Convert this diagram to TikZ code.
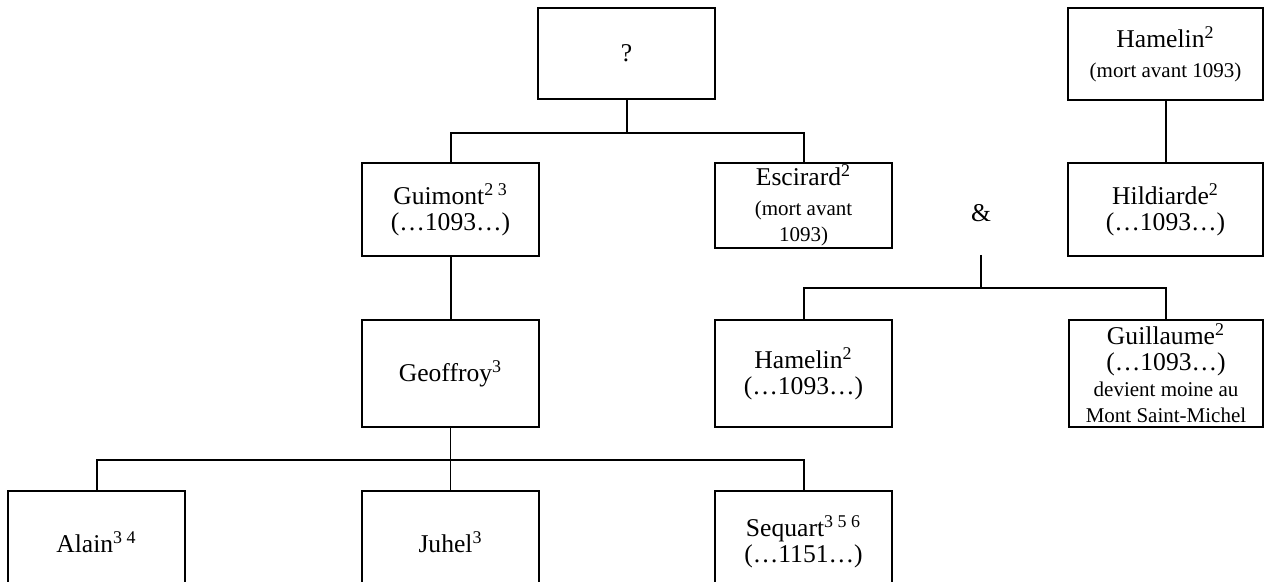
\documentclass[tikz,border=0pt]{standalone}
\usepackage{fontspec}
\setmainfont{Liberation Serif}
\newcommand{\nm}{\fontsize{12.8}{13}\selectfont}
\newcommand{\sm}{\fontsize{10.5}{10}\selectfont}

\begin{document}
\begin{tikzpicture}[x=0.5pt,y=-0.5pt,
  personne/.style={draw,line width=1.3pt,inner sep=0pt,align=center,font=\nm,
    minimum width=88.5pt},
  large/.style={minimum width=97.5pt},
  lien/.style={line width=1pt}]
\useasboundingbox (0,0) rectangle (1264,582);
\clip (0,0) rectangle (1264,582);
% ancetres
\node[personne,minimum height=45.5pt] (inconnu) at (626.5,53.5) {?};
\node[personne,large,minimum height=46pt] (hamelinA) at (1165.5,54)
  {Hamelin\textsuperscript{2}\\[2pt] \sm (mort avant 1093)};
% enfants
\node[personne,minimum height=46.5pt] (guimont) at (450.5,209.5)
  {Guimont\textsuperscript{2 3}\\ (…1093…)};
\node[personne,minimum height=42.5pt] (escirard) at (803.5,205.5)
  {Escirard\textsuperscript{2}\\[2pt] \sm (mort avant\\ \sm 1093)};
\node[personne,large,minimum height=46.5pt] (hildiarde) at (1165.5,209.5)
  {Hildiarde\textsuperscript{2}\\ (…1093…)};
\node[font=\nm] (et) at (981,213) {\&};
\coordinate (etpied) at (981,255);
% petits-enfants
\node[personne,minimum height=53.5pt] (geoffroy) at (450.5,373.5)
  {Geoffroy\textsuperscript{3}};
\node[personne,minimum height=53.5pt] (hamelinB) at (803.5,373.5)
  {Hamelin\textsuperscript{2}\\ (…1093…)};
\node[personne,minimum width=97pt,minimum height=53.5pt] (guillaume) at (1166,373.5)
  {Guillaume\textsuperscript{2}\\ (…1093…)\\ \sm devient moine au\\ \sm Mont Saint-Michel};
% derniere generation
\node[personne,minimum height=51pt] (alain) at (96.5,542)
  {Alain\textsuperscript{3 4}};
\node[personne,minimum height=51pt] (juhel) at (450.5,542)
  {Juhel\textsuperscript{3}};
\node[personne,minimum height=51pt] (sequart) at (803.5,542)
  {Sequart\textsuperscript{3 5 6}\\ (…1151…)};
% liens
\draw[lien] (inconnu.south) -- ++(0,33) coordinate (barre1);
\draw[lien] (guimont.north) |- (barre1) -| (escirard.north);
\draw[lien] (hamelinA.south) -- (hildiarde.north);
\draw[lien] (guimont.south) -- (geoffroy.north);
\draw[lien] (etpied) -- ++(0,33) coordinate (barre2);
\draw[lien] (hamelinB.north) |- (barre2) -| (guillaume.north);
\draw[lien,line width=0.6pt] (geoffroy.south) -- (juhel.north);
\path (geoffroy.south) ++(0,32) coordinate (barre3);
\draw[lien] (alain.north) |- (barre3) -| (sequart.north);
\end{tikzpicture}
\end{document}
